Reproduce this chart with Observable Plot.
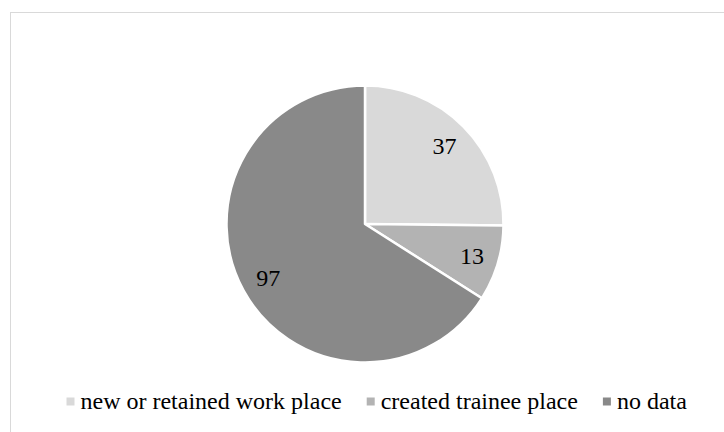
<!DOCTYPE html>
<html>
<head>
<meta charset="utf-8">
<script src="https://cdn.jsdelivr.net/npm/d3@7"></script>
<script src="https://cdn.jsdelivr.net/npm/@observablehq/plot@0.6"></script>
<style>
  html, body { margin: 0; padding: 0; background: #fff; width: 724px; height: 432px; overflow: hidden; }
  #wrap { position: relative; width: 724px; height: 432px; }
  #frame { position: absolute; left: 10px; top: 12px; width: 800px; height: 500px; border: 1.5px solid #d9d9d9; box-sizing: border-box; }
  #chart { position: absolute; left: 0; top: 0; }
</style>
</head>
<body>
<div id="wrap"><div id="frame"></div><div id="chart"></div></div>
<script>
const categories = ["new or retained work place", "created trainee place", "no data"];
const values = [37, 13, 97];
const colors = ["#d9d9d9", "#b3b3b3", "#898989"];

const W = 724, H = 432;
const cx = 365, cy = 224, R = 138.5, labelR = 111;
const font = "Liberation Serif, Times New Roman, serif";
const fs = 24;

const data = categories.map((c, i) => ({category: c, value: values[i], color: colors[i]}));
const arcs = d3.pie().sort(null).value(d => d.value)(data);
const arcGen = d3.arc().innerRadius(0).outerRadius(R);
const labelArc = d3.arc().innerRadius(labelR).outerRadius(labelR);
const labels = arcs.map(a => {
  const [x, y] = labelArc.centroid(a);
  return {x: cx + x, y: cy + y, text: String(a.data.value)};
});

// legend layout from measured text widths
const ctx = document.createElement("canvas").getContext("2d");
ctx.font = `${fs}px ${font}`;
const marker = 8, gapM = 6, gapItem = 25;
let lx = 66;
const legend = data.map(d => {
  const item = {mx: lx + marker / 2, tx: lx + marker + gapM, y: 401, label: d.category, color: d.color};
  lx = item.tx + ctx.measureText(d.category).width + gapItem;
  return item;
});

const pieMark = () => {
  const g = d3.create("svg:g").attr("transform", `translate(${cx},${cy})`);
  g.selectAll("path").data(arcs).join("path")
    .attr("d", arcGen)
    .attr("fill", d => d.data.color)
    .attr("stroke", "#fff")
    .attr("stroke-width", 2.5)
    .attr("stroke-linejoin", "round");
  return g.node();
};

const chart = Plot.plot({
  width: W,
  height: H,
  margin: 0,
  x: {type: "identity", axis: null},
  y: {type: "identity", axis: null},
  style: {background: "transparent", fontFamily: font},
  marks: [
    pieMark,
    Plot.text(labels, {x: "x", y: "y", text: "text", fontSize: fs, fontFamily: font, fill: "#000", textAnchor: "middle", lineAnchor: "middle"}),
    Plot.dot(legend, {x: "mx", y: "y", symbol: "square", r: marker / Math.sqrt(Math.PI), fill: "color", stroke: null}),
    Plot.text(legend, {x: "tx", y: "y", text: "label", fontSize: fs, fontFamily: font, fill: "#000", textAnchor: "start", lineAnchor: "middle"})
  ]
});
document.getElementById("chart").appendChild(chart);
</script>
</body>
</html>
